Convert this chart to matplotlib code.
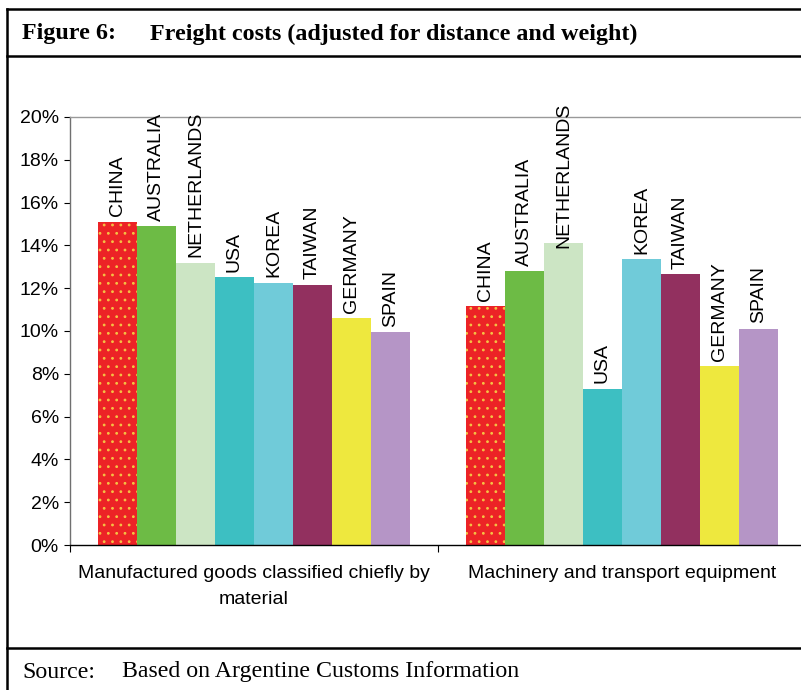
import matplotlib
matplotlib.use("Agg")
import matplotlib.pyplot as plt
from matplotlib.lines import Line2D
import numpy as np

categories = ["Manufactured goods classified chiefly by\nmaterial",
              "Machinery and transport equipment"]
countries = ["CHINA", "AUSTRALIA", "NETHERLANDS", "USA", "KOREA", "TAIWAN", "GERMANY", "SPAIN"]
manufactured = [15.1, 14.9, 13.2, 12.5, 12.25, 12.15, 10.6, 9.95]
machinery = [11.15, 12.8, 14.1, 7.3, 13.35, 12.65, 8.35, 10.1]
colors = ["#EC2326", "#6DBB45", "#CCE5C4", "#3DBFC2", "#70CBD9", "#92305F", "#EEE83E", "#B595C6"]
yticks = [0, 2, 4, 6, 8, 10, 12, 14, 16, 18, 20]

W, H = 801, 690
fig = plt.figure(figsize=(W / 100, H / 100), dpi=100)
sans = "Liberation Sans"
serif = "Liberation Serif"

ax = fig.add_axes([70 / W, 145 / H, 736 / W, 428 / H])
values = np.array([manufactured, machinery])  # shape (2, 8)
n = len(countries)
bw = 0.106
x = np.arange(len(categories))
plt.rcParams["hatch.linewidth"] = 0.8
for i, (c, col) in enumerate(zip(countries, colors)):
    xs = x + (i - (n - 1) / 2) * bw
    if i == 0:
        ax.bar(xs, values[:, i], width=bw, color=col, edgecolor="#F4C244",
               linewidth=0, hatch="..", zorder=2)
    else:
        ax.bar(xs, values[:, i], width=bw, color=col, linewidth=0, zorder=2)

ax.set_xlim(-0.5, 1.5)
ax.set_ylim(0, 20)
ax.set_yticks(yticks)
ax.set_yticklabels([f"{v}%" for v in yticks], fontsize=14, family=sans)
ax.set_xticks([-0.5, 0.5, 1.5])
ax.set_xticklabels([])
ax.tick_params(axis="x", direction="out", length=5, width=0.8, color="black")
ax.tick_params(axis="y", direction="out", length=4, width=0.8, color="black", pad=4)
for k, lab in enumerate(categories):
    ax.text(x[k], -0.95, lab, ha="center", va="top", fontsize=14, family=sans,
            linespacing=1.65)

ax.spines["left"].set_color("#707070")
ax.spines["bottom"].set_color("black")
ax.spines["top"].set_color("#999999")
ax.spines["right"].set_color("#999999")
for s in ax.spines.values():
    s.set_linewidth(1.0)

# rotated country labels above bars
texts = []
for g in range(len(categories)):
    for i, c in enumerate(countries):
        xs = x[g] + (i - (n - 1) / 2) * bw
        t = ax.annotate(c, (xs, values[g, i]), xytext=(0, 4), textcoords="offset points",
                        rotation=90, ha="center", va="bottom", fontsize=14, family=sans,
                        annotation_clip=False)
        texts.append(t)

fig.canvas.draw()
r = fig.canvas.get_renderer()
limit_px = H - 103  # label top may not go above this (display coords)
for t in texts:
    bb = t.get_window_extent(r)
    if bb.y1 > limit_px:
        dy = (bb.y1 - limit_px) * 72 / 100
        ox, oy = t.xyann
        t.xyann = (ox, oy - dy)

# frame lines
def hline(y, x0=7, x1=W, lw=1.8):
    fig.add_artist(Line2D([x0 / W, x1 / W], [1 - y / H, 1 - y / H], color="black", lw=lw))
hline(9)
hline(56)
hline(648)
fig.add_artist(Line2D([7 / W, 7 / W], [1 - 9 / H, 0], color="black", lw=1.8))

fig.text(22 / W, 1 - 34 / H, "Figure 6:", fontsize=17.3, family=serif, weight="bold",
         va="center", ha="left")
fig.text(150 / W, 1 - 34 / H, "Freight costs (adjusted for distance and weight)", fontsize=17.3,
         family=serif, weight="bold", va="center", ha="left")
fig.text(22 / W, 1 - 672 / H, "Source:", fontsize=17.2, family=serif, va="center", ha="left")
fig.text(122 / W, 1 - 672 / H, "Based on Argentine Customs Information", fontsize=17.2,
         family=serif, va="center", ha="left")

fig.savefig("out.png", dpi=100)
